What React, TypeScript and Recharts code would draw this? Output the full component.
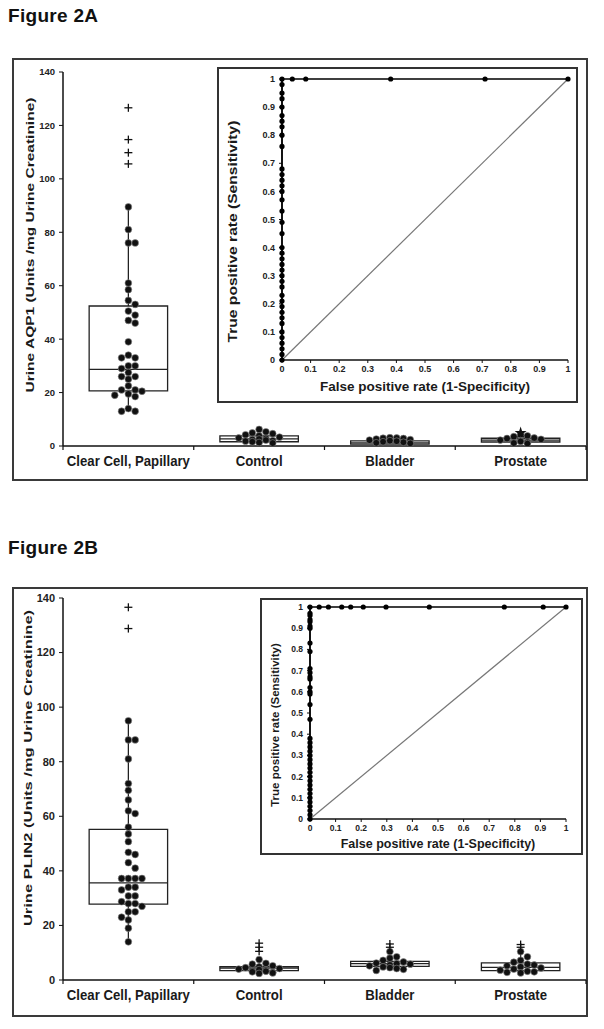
import React from 'react'
import {
  ComposedChart,
  Scatter,
  XAxis,
  YAxis,
  ReferenceArea,
  ReferenceLine,
  Symbols,
} from 'recharts'

const FONT = '"Liberation Sans", Arial, Helvetica, sans-serif'
const INK = '#1a1a1a'

const categories = ['Clear Cell, Papillary', 'Control', 'Bladder', 'Prostate']
// integer positions are the band edges (tick marks), halves carry the names
const categoryTicks = [0, 0.5, 1, 1.5, 2, 2.5, 3, 3.5, 4]
const mainTicks = [0, 20, 40, 60, 80, 100, 120, 140]
const rocTicks = [0, 0.1, 0.2, 0.3, 0.4, 0.5, 0.6, 0.7, 0.8, 0.9, 1]

// Figure 2A - urine AQP1
const aqp1ClearCell = [
  89.5, 81, 76, 76, 61, 58.5, 54.5, 53, 50.5, 49, 47, 46, 39, 34, 33, 33, 30,
  30, 29, 27.5, 26, 26, 25, 22.5, 21, 21, 20.5, 19.5, 19, 18.5, 14, 13, 13,
]
const aqp1Control = [6.2, 5.3, 4.9, 4.6, 4.2, 3.8, 3.3, 3, 2.8, 2.6, 2.4, 2.2, 2, 1.8, 1.6, 1.3, 1.1]
const aqp1Bladder = [3.1, 3, 2.9, 2.8, 2.6, 2.4, 2.2, 2, 1.8, 1.6, 1.4, 1.2, 1]
const aqp1Prostate = [4.3, 3.8, 3.5, 3, 2.8, 2.5, 2.2, 2, 1.7, 1.4, 1.1, 0.9]
const aqp1Q1 = [20.6, 1.6, 0.7, 1.5]
const aqp1Median = [28.7, 2.7, 1.2, 2.2]
const aqp1Q3 = [52.4, 3.8, 1.9, 2.9]
const aqp1Low = [13, 1.1, 1, 0.9]
const aqp1High = [89.5, 6.2, 3.1, 4.3]
const aqp1Plus = [[126.6, 114.7, 109.8, 105.6], [], [], []]
const aqp1Star = [[], [], [], [4.9]]

// Figure 2B - urine PLIN2
const plin2ClearCell = [
  95, 88, 88, 81, 72, 69.5, 66, 62, 61, 56, 53.5, 50.7, 46.8, 46, 43, 41, 37.2,
  37.2, 37.2, 37.2, 34, 34, 33, 30.8, 30.8, 28.7, 28, 28, 27, 25, 25, 23, 22,
  19, 14,
]
const plin2Control = [7.5, 6.1, 5.8, 5.2, 4.8, 4.5, 4.2, 4, 3.8, 3.6, 3.4, 3.2, 3, 2.8, 2.6, 2.4]
const plin2Bladder = [10.4, 8.5, 8, 7.2, 6.6, 6.2, 6, 5.8, 5.5, 5.2, 4.8, 4.5, 4.2, 3.9, 3.5]
const plin2Prostate = [10.4, 8.5, 7.2, 6.5, 5.8, 5.5, 5.2, 4.8, 4.4, 4, 3.6, 3.2, 3, 2.8, 2.6]
const plin2Q1 = [27.8, 3.4, 5, 3.4]
const plin2Median = [35.6, 4.4, 6, 4.6]
const plin2Q3 = [55.2, 4.9, 6.8, 6.3]
const plin2Low = [13.4, 2.4, 3.5, 2.6]
const plin2High = [94.6, 7.5, 10.4, 10.4]
const plin2Plus = [[136.6, 128.8], [13.5, 12, 10.5], [13.2, 12], [13, 12]]
const plin2Star: number[][] = [[], [], [], []]

// ROC curves: points on the left edge (FPR 0) and along the top (TPR 1)
const rocATprLeft = [
  0, 0.02, 0.04, 0.06, 0.08, 0.1, 0.13, 0.15, 0.17, 0.19, 0.21, 0.23, 0.26,
  0.28, 0.3, 0.32, 0.34, 0.36, 0.38, 0.4, 0.45, 0.49, 0.53, 0.57, 0.6, 0.62,
  0.64, 0.66, 0.68, 0.76, 0.8, 0.83, 0.85, 0.87, 0.9, 0.93, 0.95, 0.98, 1,
]
const rocAFprTop = [0.036, 0.083, 0.38, 0.71, 1]
const rocBTprLeft = [
  0, 0.02, 0.04, 0.06, 0.08, 0.1, 0.12, 0.14, 0.16, 0.18, 0.2, 0.22, 0.24,
  0.26, 0.28, 0.3, 0.32, 0.34, 0.36, 0.38, 0.47, 0.54, 0.59, 0.6, 0.62, 0.66,
  0.67, 0.69, 0.71, 0.79, 0.83, 0.9, 0.91, 0.93, 0.94, 0.96, 0.97, 1,
]
const rocBFprTop = [0.036, 0.072, 0.124, 0.159, 0.208, 0.297, 0.466, 0.759, 0.911, 1]

// simple beeswarm so dots sit side by side instead of on top of each other
function swarm(values: number[], cat: number, yGap: number, step: number) {
  const placed: { x: number; y: number }[] = []
  const offsets = [0, 1, -1, 2, -2, 3, -3]
  const sorted = [...values].sort((a, b) => b - a)
  for (const v of sorted) {
    let best = 0
    let bestHits = Infinity
    for (const k of offsets) {
      const x = cat + 0.5 + k * step
      const hits = placed.filter(
        (p) => Math.abs(p.y - v) < yGap && Math.abs(p.x - x) < step * 0.9
      ).length
      if (hits < bestHits) {
        bestHits = hits
        best = k
      }
      if (hits === 0) break
    }
    placed.push({ x: cat + 0.5 + best * step, y: v })
  }
  return placed
}

const Dot = (p: any) => (
  <circle cx={p.cx} cy={p.cy} r={3.4} fill="#111" stroke="#8a8a8a" strokeWidth={0.6} />
)
const RocDot = (p: any) => <circle cx={p.cx} cy={p.cy} r={2.6} fill="#000" />
const Plus = (p: any) => (
  <g stroke="#111" strokeWidth={1.3}>
    <line x1={p.cx - 4} x2={p.cx + 4} y1={p.cy} y2={p.cy} />
    <line x1={p.cx} x2={p.cx} y1={p.cy - 4} y2={p.cy + 4} />
  </g>
)
const Star = (p: any) => <Symbols cx={p.cx} cy={p.cy} type="star" size={45} fill="#111" />

const vLabel =
  (text: string, dx: number, dy: number, size: number, stretch: number) =>
  (props: any) => {
    const vb = props.viewBox
    const cx = vb.x + dx
    const cy = vb.y + vb.height / 2 + dy
    return (
      <text
        x={0}
        y={0}
        transform={`translate(${cx} ${cy}) rotate(-90) scale(${stretch} 1)`}
        textAnchor="middle"
        dominantBaseline="central"
        fontSize={size}
        fontWeight="bold"
        fill={INK}
        fontFamily={FONT}
      >
        {text}
      </text>
    )
  }

const hLabel = (text: string, baseline: number, size: number) => (props: any) => {
  const vb = props.viewBox
  return (
    <text
      x={vb.x + vb.width / 2}
      y={vb.y + baseline}
      textAnchor="middle"
      fontSize={size}
      fontWeight="bold"
      fill={INK}
      fontFamily={FONT}
    >
      {text}
    </text>
  )
}

const CAT_MARGIN = 10

// band edges get a short tick mark, band centres get the category name
const CategoryTick = (p: any) => {
  const v = p.payload.value
  if (Number.isInteger(v)) {
    const y0 = p.y - CAT_MARGIN
    return <line x1={p.x} x2={p.x} y1={y0} y2={y0 + 4} stroke="#111" strokeWidth={1.2} />
  }
  return (
    <text
      x={0}
      y={0}
      transform={`translate(${p.x} ${p.y}) scale(1 1.12)`}
      dy="0.71em"
      textAnchor="middle"
      fontSize={13.2}
      fontWeight="bold"
      fill={INK}
      fontFamily={FONT}
    >
      {categories[Math.floor(v)]}
    </text>
  )
}

type BoxProps = {
  groups: number[][]
  q1: number[]
  median: number[]
  q3: number[]
  low: number[]
  high: number[]
  plus: number[][]
  star: number[][]
  yLabel: string
  left: number
  top: number
  width: number
  height: number
  marginTop: number
  axisHeight: number
  tickFont: number
  yLabelDx: number
  yLabelDy: number
  yLabelStretch: number
}

function BoxPanel(b: BoxProps) {
  const dots = b.groups.flatMap((g, i) => swarm(g, i, 2.4, 0.052))
  const plusPts = b.plus.flatMap((g, i) => g.map((v) => ({ x: i + 0.5, y: v })))
  const starPts = b.star.flatMap((g, i) => g.map((v) => ({ x: i + 0.5, y: v })))
  return (
    <div style={{ position: 'absolute', left: b.left, top: b.top }}>
      <ComposedChart
        width={b.width}
        height={b.height}
        margin={{ top: b.marginTop, right: 2, left: 0, bottom: 4 }}
      >
        <XAxis
          type="number"
          dataKey="x"
          domain={[0, 4]}
          ticks={categoryTicks}
          interval={0}
          height={b.axisHeight}
          tickSize={0}
          tickMargin={CAT_MARGIN}
          tickLine={false}
          axisLine={{ stroke: '#111', strokeWidth: 1.5 }}
          tick={CategoryTick}
          allowDataOverflow
        />
        <YAxis
          type="number"
          dataKey="y"
          domain={[0, 140]}
          ticks={mainTicks}
          interval={0}
          width={51}
          tickSize={4}
          tickMargin={4}
          allowDataOverflow
          axisLine={{ stroke: '#111', strokeWidth: 1.5 }}
          tickLine={{ stroke: '#111' }}
          tick={{ fontSize: b.tickFont, fontWeight: 'bold', fill: '#222', fontFamily: FONT }}
          label={vLabel(b.yLabel, b.yLabelDx, b.yLabelDy, 11, b.yLabelStretch)}
        />
        {categories.map((c, i) => (
          <ReferenceArea
            key={'box' + c}
            x1={i + 0.2}
            x2={i + 0.8}
            y1={b.q1[i]}
            y2={b.q3[i]}
            fill="#fff"
            fillOpacity={1}
            stroke="#222"
            strokeWidth={1.3}
          />
        ))}
        {categories.map((c, i) => (
          <ReferenceLine
            key={'hi' + c}
            segment={[
              { x: i + 0.5, y: b.q3[i] },
              { x: i + 0.5, y: b.high[i] },
            ]}
            stroke="#222"
            strokeWidth={1.3}
          />
        ))}
        {categories.map((c, i) => (
          <ReferenceLine
            key={'lo' + c}
            segment={[
              { x: i + 0.5, y: b.low[i] },
              { x: i + 0.5, y: b.q1[i] },
            ]}
            stroke="#222"
            strokeWidth={1.3}
          />
        ))}
        {categories.map((c, i) => (
          <ReferenceLine
            key={'med' + c}
            segment={[
              { x: i + 0.2, y: b.median[i] },
              { x: i + 0.8, y: b.median[i] },
            ]}
            stroke="#222"
            strokeWidth={1.3}
          />
        ))}
        <Scatter data={dots} dataKey="y" shape={Dot} isAnimationActive={false} />
        <Scatter data={plusPts} dataKey="y" shape={Plus} isAnimationActive={false} />
        <Scatter data={starPts} dataKey="y" shape={Star} isAnimationActive={false} />
      </ComposedChart>
    </div>
  )
}

type RocProps = {
  tprLeft: number[]
  fprTop: number[]
  left: number
  top: number
  width: number
  height: number
  margin: { top: number; right: number; left: number; bottom: number }
  yWidth: number
  xHeight: number
  tickFont: number
  xLabelSize: number
  xLabelBaseline: number
  yLabelSize: number
  yLabelDx: number
  yLabelDy: number
  yLabelStretch: number
}

function RocInset(r: RocProps) {
  const pts = [
    ...r.tprLeft.map((t) => ({ x: 0, y: t })),
    ...r.fprTop.map((f) => ({ x: f, y: 1 })),
  ]
  const tickStyle = { fontSize: r.tickFont, fontWeight: 'bold', fill: '#222', fontFamily: FONT }
  return (
    <div
      style={{
        position: 'absolute',
        left: r.left,
        top: r.top,
        width: r.width,
        height: r.height,
        background: '#fff',
        border: '2px solid #333',
        boxSizing: 'border-box',
      }}
    >
      <div style={{ position: 'absolute', left: -2, top: -2 }}>
        <ComposedChart width={r.width} height={r.height} margin={r.margin}>
          <XAxis
            type="number"
            dataKey="x"
            domain={[0, 1]}
            ticks={rocTicks}
            interval={0}
            height={r.xHeight}
            tickSize={3}
            tickMargin={3}
            axisLine={{ stroke: '#111', strokeWidth: 1.3 }}
            tickLine={{ stroke: '#111' }}
            tick={tickStyle}
            label={hLabel('False positive rate (1-Specificity)', r.xLabelBaseline, r.xLabelSize)}
          />
          <YAxis
            type="number"
            dataKey="y"
            domain={[0, 1]}
            ticks={rocTicks}
            interval={0}
            width={r.yWidth}
            tickSize={3}
            tickMargin={4}
            axisLine={{ stroke: '#111', strokeWidth: 1.3 }}
            tickLine={{ stroke: '#111' }}
            tick={tickStyle}
            label={vLabel(
              'True positive rate (Sensitivity)',
              r.yLabelDx,
              r.yLabelDy,
              r.yLabelSize,
              r.yLabelStretch
            )}
          />
          <ReferenceLine
            segment={[
              { x: 0, y: 0 },
              { x: 1, y: 1 },
            ]}
            stroke="#777"
            strokeWidth={1.2}
          />
          <Scatter
            data={pts}
            dataKey="y"
            shape={RocDot}
            line={{ stroke: '#000', strokeWidth: 1.6 }}
            lineType="joint"
            isAnimationActive={false}
          />
        </ComposedChart>
      </div>
    </div>
  )
}

const frame = (left: number, top: number, width: number, height: number) => ({
  position: 'absolute' as const,
  left,
  top,
  width,
  height,
  border: '2px solid #3a3a3a',
  boxSizing: 'border-box' as const,
})

const titleStyle = (top: number) => ({
  position: 'absolute' as const,
  left: 8,
  top,
  fontFamily: FONT,
  fontWeight: 'bold' as const,
  fontSize: 19,
  lineHeight: '22px',
  letterSpacing: 0.3,
  color: '#111',
})

export default function App() {
  return (
    <div style={{ position: 'absolute', left: 0, top: 0, width: 604, height: 1029, background: '#fff' }}>
      <div style={titleStyle(5)}>Figure 2A</div>
      <div style={frame(12, 58, 576, 423)} />
      <BoxPanel
        groups={[aqp1ClearCell, aqp1Control, aqp1Bladder, aqp1Prostate]}
        q1={aqp1Q1}
        median={aqp1Median}
        q3={aqp1Q3}
        low={aqp1Low}
        high={aqp1High}
        plus={aqp1Plus}
        star={aqp1Star}
        yLabel="Urine AQP1 (Units /mg Urine Creatinine)"
        left={12}
        top={58}
        width={576}
        height={423}
        marginTop={14}
        axisHeight={31}
        tickFont={9.5}
        yLabelDx={18}
        yLabelDy={-14}
        yLabelStretch={1.41}
      />
      <RocInset
        tprLeft={rocATprLeft}
        fprTop={rocAFprTop}
        left={217}
        top={67}
        width={361}
        height={336}
        margin={{ top: 12, right: 10, left: 0, bottom: 0 }}
        yWidth={65}
        xHeight={43}
        tickFont={9}
        xLabelSize={13.5}
        xLabelBaseline={31}
        yLabelSize={12}
        yLabelDx={16}
        yLabelDy={12}
        yLabelStretch={1.3}
      />

      <div style={titleStyle(537)}>Figure 2B</div>
      <div style={frame(12, 587, 576, 430)} />
      <BoxPanel
        groups={[plin2ClearCell, plin2Control, plin2Bladder, plin2Prostate]}
        q1={plin2Q1}
        median={plin2Median}
        q3={plin2Q3}
        low={plin2Low}
        high={plin2High}
        plus={plin2Plus}
        star={plin2Star}
        yLabel="Urine PLIN2 (Units /mg Urine Creatinine)"
        left={12}
        top={587}
        width={576}
        height={430}
        marginTop={11}
        axisHeight={33}
        tickFont={11}
        yLabelDx={16}
        yLabelDy={-21}
        yLabelStretch={1.5}
      />
      <RocInset
        tprLeft={rocBTprLeft}
        fprTop={rocBFprTop}
        left={260}
        top={598}
        width={323}
        height={257}
        margin={{ top: 9, right: 17, left: 0, bottom: 0 }}
        yWidth={50}
        xHeight={36}
        tickFont={8.5}
        xLabelSize={12.5}
        xLabelBaseline={29}
        yLabelSize={11.5}
        yLabelDx={15}
        yLabelDy={12}
        yLabelStretch={1}
      />
    </div>
  )
}
